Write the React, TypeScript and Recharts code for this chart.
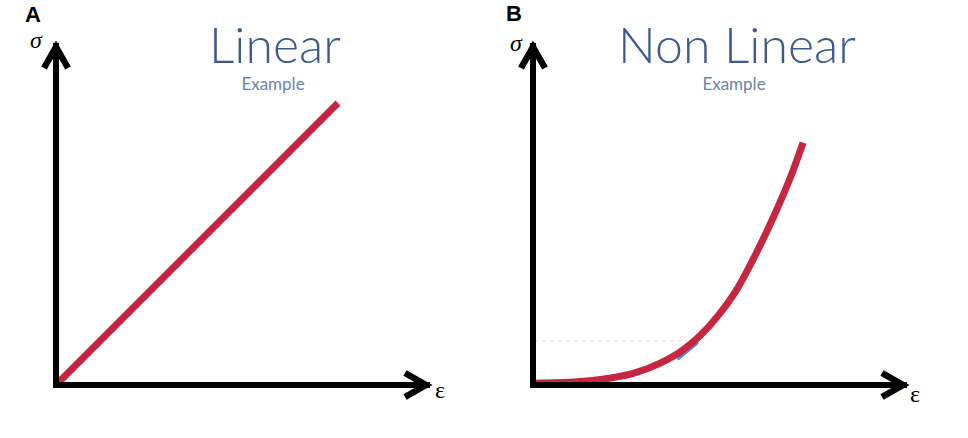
import React from "react";
import { LineChart, Line, XAxis, YAxis, ReferenceLine } from "recharts";

const linearData = [
  { x: 0, y: 0 },
  { x: 76.0, y: 83.2 },
];

const nonLinearData = [
  { x: 0, y: 0.5 },
  { x: 10, y: 0.8 },
  { x: 20, y: 1.9 },
  { x: 27, y: 3.4 },
  { x: 34, y: 6.3 },
  { x: 40, y: 10.0 },
  { x: 45, y: 14.5 },
  { x: 50, y: 20.6 },
  { x: 55, y: 28.3 },
  { x: 60, y: 38.5 },
  { x: 65, y: 50.0 },
  { x: 70, y: 63.0 },
  { x: 72.8, y: 71.5 },
];

const panelLabels = ["A", "B"];
const titles = ["Linear", "Non Linear"];
const subtitle = "Example";
const yLabel = "σ";
const xLabel = "ε";

const RED = "#c6263f";
const TITLE = "#3c5a8e";
const SUB = "#6d82ac";

function ArrowDefs({ id }: { id: string }) {
  return (
    <defs>
      <marker
        id={id}
        markerUnits="userSpaceOnUse"
        markerWidth={40}
        markerHeight={40}
        viewBox="-30 -20 40 40"
        refX={0}
        refY={0}
        orient="auto-start-reverse"
        overflow="visible"
      >
        <path d="M -22 -12 L -1 0 L -22 12" fill="none" stroke="#000" strokeWidth={6.5} strokeLinejoin="miter" />
      </marker>
    </defs>
  );
}

const axisStyle = (id: string, isY: boolean) => ({
  stroke: "#000",
  strokeWidth: 6,
  strokeLinecap: "square" as const,
  ...(isY ? { markerStart: `url(#${id})` } : { markerEnd: `url(#${id})` }),
});

export default function App() {
  return (
    <div style={{ position: "absolute", left: 0, top: 0, width: 968, height: 438, background: "#fff" }}>
      <div style={{ position: "absolute", left: 0, top: 0 }}>
        <LineChart width={484} height={438} data={linearData} margin={{ top: 46, left: 55, right: 57, bottom: 52 }}>
          <ArrowDefs id="arrA" />
          <XAxis dataKey="x" type="number" domain={[0, 100]} tick={false} tickLine={false} height={1} axisLine={axisStyle("arrA", false)} />
          <YAxis type="number" domain={[0, 100]} tick={false} tickLine={false} width={1} axisLine={axisStyle("arrA", true)} />
          <Line type="linear" dataKey="y" stroke={RED} strokeWidth={7} dot={false} isAnimationActive={false} />
        </LineChart>
      </div>
      <div style={{ position: "absolute", left: 484, top: 0 }}>
        <LineChart width={484} height={438} data={nonLinearData} margin={{ top: 46, left: 48, right: 64, bottom: 52 }}>
          <ArrowDefs id="arrB" />
          <XAxis dataKey="x" type="number" domain={[0, 100]} tick={false} tickLine={false} height={1} axisLine={axisStyle("arrB", false)} />
          <YAxis type="number" domain={[0, 100]} tick={false} tickLine={false} width={1} axisLine={axisStyle("arrB", true)} />
          <ReferenceLine segment={[{ x: 0, y: 13.0 }, { x: 43, y: 13.0 }]} stroke="#d6e4f7" strokeWidth={1} strokeDasharray="5 3" />
          <ReferenceLine segment={[{ x: 39.0, y: 7.6 }, { x: 44.5, y: 12.6 }]} stroke="#4a8fe6" strokeWidth={3} />
          <Line type="monotone" dataKey="y" stroke={RED} strokeWidth={7} dot={false} isAnimationActive={false} />
        </LineChart>
      </div>
      <svg width={968} height={438} style={{ position: "absolute", left: 0, top: 0, pointerEvents: "none" }}>
        <text x={25} y={22} fontFamily="Liberation Sans, Arial, sans-serif" fontWeight="bold" fontSize={22} fill="#000">{panelLabels[0]}</text>
        <text x={506} y={21} fontFamily="Liberation Sans, Arial, sans-serif" fontWeight="bold" fontSize={22} fill="#000">{panelLabels[1]}</text>
        <text x={30} y={48} fontFamily="Liberation Serif, serif" fontStyle="italic" fontSize={24} fill="#000">{yLabel}</text>
        <text x={510} y={51} fontFamily="Liberation Serif, serif" fontStyle="italic" fontSize={24} fill="#000">{yLabel}</text>
        <text x={435} y={398} fontFamily="Liberation Serif, serif" fontSize={24} fill="#000">{xLabel}</text>
        <text x={910} y={402} fontFamily="Liberation Serif, serif" fontSize={24} fill="#000">{xLabel}</text>
        <text x={275} y={63} textAnchor="middle" fontFamily="Lato, sans-serif" fontWeight={300} fontSize={50} fill={TITLE}>{titles[0]}</text>
        <text x={273} y={90} textAnchor="middle" fontFamily="Lato, sans-serif" fontWeight={400} fontSize={17} fill={SUB}>{subtitle}</text>
        <text x={737} y={63} textAnchor="middle" fontFamily="Lato, sans-serif" fontWeight={300} fontSize={50} fill={TITLE}>{titles[1]}</text>
        <text x={734} y={90} textAnchor="middle" fontFamily="Lato, sans-serif" fontWeight={400} fontSize={17} fill={SUB}>{subtitle}</text>
      </svg>
    </div>
  );
}
